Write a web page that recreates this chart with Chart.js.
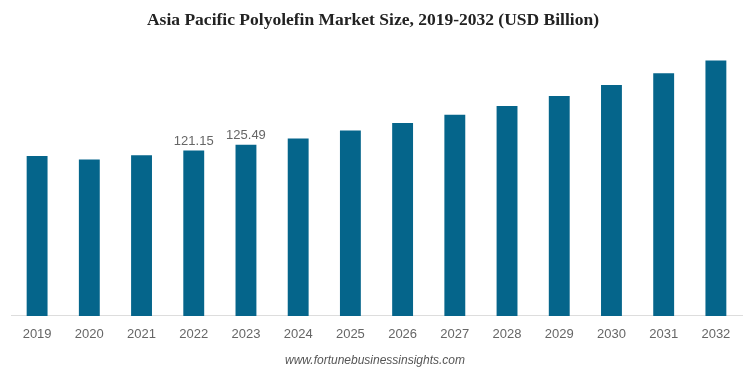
<!DOCTYPE html>
<html>
<head>
<meta charset="utf-8">
<script src="https://cdn.jsdelivr.net/npm/chart.js@4.4.0/dist/chart.umd.min.js"></script>
<style>
html,body{margin:0;padding:0;background:#fff;}
#wrap{width:745px;height:372px;position:relative;}
</style>
</head>
<body>
<div id="wrap"><canvas id="c" width="745" height="372"></canvas></div>
<script>
const categories = ["2019","2020","2021","2022","2023","2024","2025","2026","2027","2028","2029","2030","2031","2032"];
const marketSize = [117.2,114.7,117.7,121.15,125.49,130.1,135.8,141.3,147.5,153.8,161.1,169.2,177.8,187.1];
const labelledYears = ["2022","2023"];
const titleText = "Asia Pacific Polyolefin Market Size, 2019-2032 (USD Billion)";
const footerText = "www.fortunebusinessinsights.com";

const decor = {
  id: 'decor',
  afterDraw(chart) {
    const ctx = chart.ctx;
    ctx.save();
    ctx.fillStyle = '#222';
    ctx.font = 'bold 17.5px "Liberation Serif", "Times New Roman", serif';
    ctx.textAlign = 'center';
    ctx.textBaseline = 'middle';
    ctx.fillText(titleText, 373, 20);
    ctx.fillStyle = '#555';
    ctx.font = 'italic 12px "Liberation Sans", Arial, sans-serif';
    ctx.fillText(footerText, 375, 361);
    const meta = chart.getDatasetMeta(0);
    ctx.fillStyle = '#666';
    ctx.font = '13px "Liberation Sans", Arial, sans-serif';
    ctx.textBaseline = 'middle';
    meta.data.forEach((bar, i) => {
      if (labelledYears.includes(categories[i])) {
        ctx.fillText(marketSize[i].toFixed(2), bar.x, bar.y - 9);
      }
    });
    ctx.restore();
  }
};

new Chart(document.getElementById('c'), {
  type: 'bar',
  data: {
    labels: categories,
    datasets: [{
      data: marketSize,
      backgroundColor: '#05658b',
      borderWidth: 0,
      barPercentage: 0.8,
      categoryPercentage: 0.5
    }]
  },
  options: {
    responsive: false,
    animation: false,
    layout: { padding: { top: 43, left: 11, right: 3, bottom: 26.5 } },
    plugins: { legend: { display: false }, title: { display: false }, tooltip: { enabled: false } },
    scales: {
      y: { display: false, min: 0, max: 200 },
      x: {
        grid: { display: false },
        border: { display: true, color: '#ddd', width: 1 },
        ticks: { color: '#666', font: { family: '"Liberation Sans", Arial, sans-serif', size: 13 }, padding: 3 }
      }
    }
  },
  plugins: [decor]
});
</script>
</body>
</html>
